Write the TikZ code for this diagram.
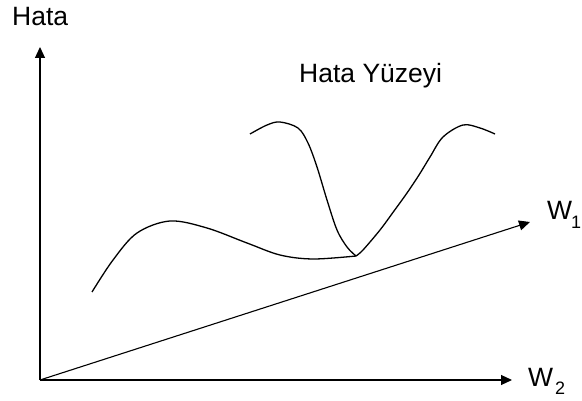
\documentclass[tikz,border=0pt]{standalone}
\usepackage{fontspec}
\setmainfont{Liberation Sans}
\usetikzlibrary{arrows.meta}
\begin{document}
\begin{tikzpicture}[x=1pt,y=-1pt,
  axis/.style={line width=1.1pt,-{Triangle[length=11pt,width=10pt]}},
  curve/.style={line width=1.3pt},
  lbl/.style={anchor=base west,inner sep=0pt,font=\fontsize{26.5}{30}\selectfont},
  subl/.style={anchor=base west,inner sep=0pt,font=\fontsize{18}{20}\selectfont}]
\useasboundingbox (0,0) rectangle (582,401);
\coordinate (O) at (40,380);
\coordinate (Ytip) at (40,47);
\coordinate (Xtip) at (512,380);
\coordinate (Dtip) at (530,222);
\draw[axis] (O) -- (Ytip);
\draw[axis] (O) -- (Xtip);
\draw[axis] (O) -- (Dtip);
\coordinate (M) at (356,256);
\draw[curve] plot[smooth, tension=0.55] coordinates {(92,292) (113,260) (137,233) (170,221) (207,228) (247,243) (280,255) (313,259) (356,256)};
\draw[curve] plot[smooth, tension=0.55] coordinates {(250,134) (267,125) (280,122) (298,128) (308,143) (317,167) (327,200) (337,230) (347,247) (356,256)};
\draw[curve] plot[smooth, tension=0.55] coordinates {(356,256) (363,250) (380,230) (394,211) (407,193) (419,175) (430,157) (443,137) (463,125) (480,128) (495,134)};
\node[lbl] (hata) at (12,26) {Hata};
\node[lbl] (yuzey) at (299,83) {Hata Yüzeyi};
\node[lbl] (w2) at (528,387) {W};
\node[subl] (w2s) at (555,395) {2};
\node[lbl] (w1) at (547,220) {W};
\node[subl] (w1s) at (571,229) {1};
\end{tikzpicture}
\end{document}
